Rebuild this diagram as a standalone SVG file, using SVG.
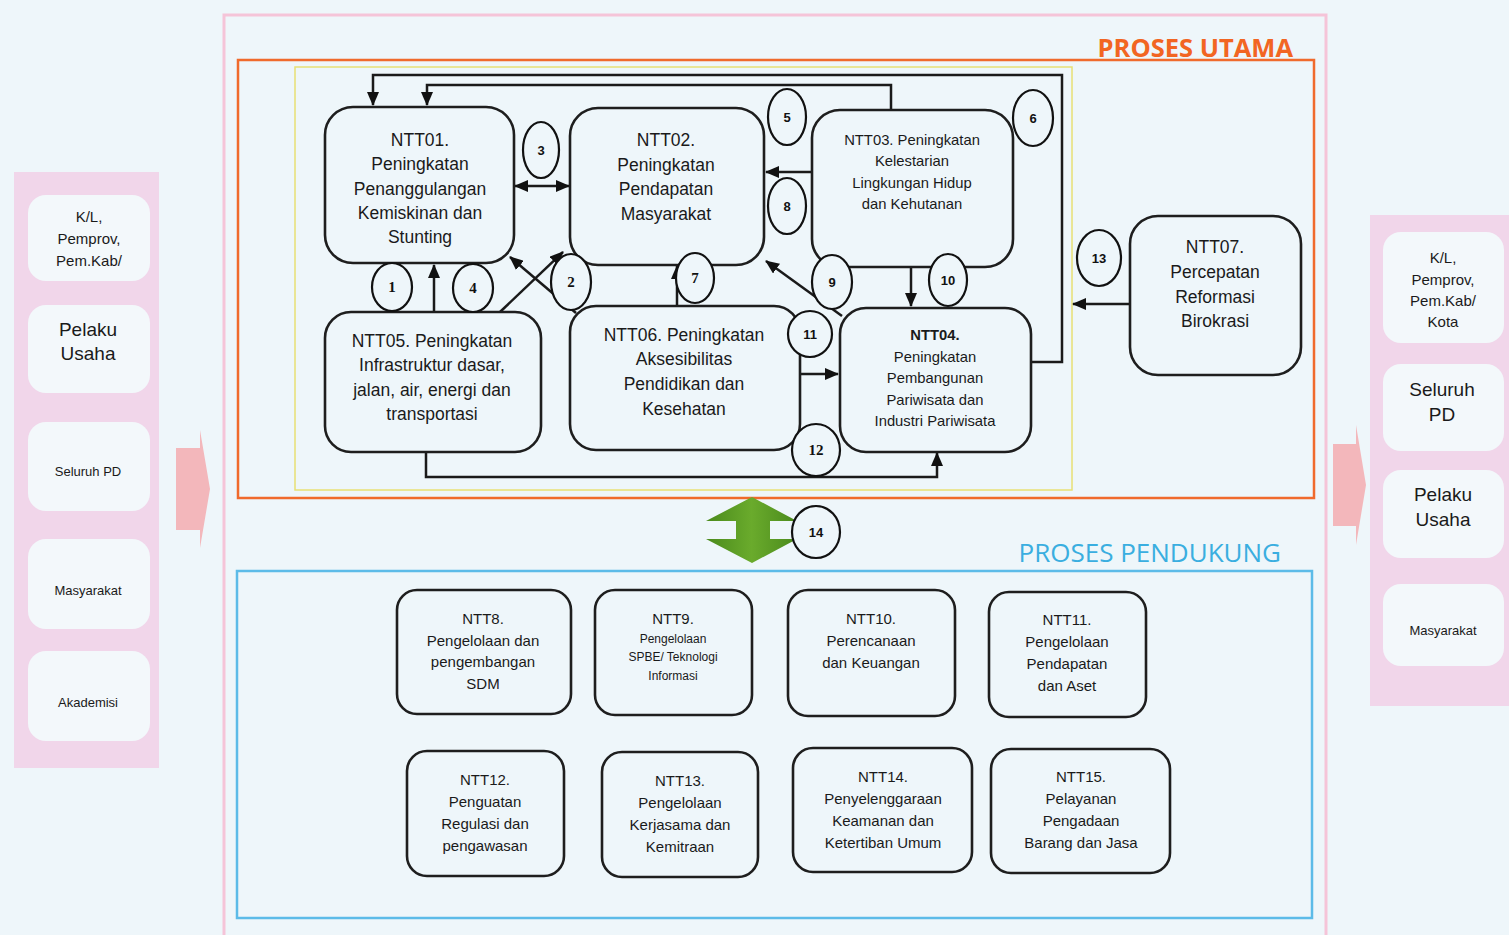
<svg xmlns="http://www.w3.org/2000/svg" width="1509" height="935" viewBox="0 0 1509 935">
<defs>
<style>
.bg{fill:#eef6fa}
.node{fill:#eef6fa;stroke:#1e1e1e;stroke-width:2.6}
.t{font-family:"Liberation Sans",Arial,sans-serif;fill:#1a1a1a;text-anchor:middle}
.t20{font-size:17.5px}
.t17{font-size:15px}
.t16{font-size:14.8px}
.t14{font-size:12px}
.circ{fill:#eef6fa;stroke:#111;stroke-width:2.2}
.num{font-family:"Liberation Sans",Arial,sans-serif;font-weight:bold;font-size:13px;fill:#111;text-anchor:middle}
.nums{font-family:"Liberation Serif","Times New Roman",serif;font-weight:bold;font-size:15px;fill:#111;text-anchor:middle}
.ln{fill:none;stroke:#1a1a1a;stroke-width:2.5}
.panel{fill:#f1d6ea}
.pbox{fill:#f3f8fb}
.pt{font-family:"Liberation Sans",Arial,sans-serif;fill:#1a1a1a;text-anchor:middle}
</style>
<marker id="ah" markerUnits="userSpaceOnUse" markerWidth="14" markerHeight="12" refX="13" refY="6" orient="auto-start-reverse" viewBox="0 0 14 12">
<path d="M0,0 L14,6 L0,12 z" fill="#111"/>
</marker>
<linearGradient id="gr" x1="0" y1="0" x2="1" y2="0">
<stop offset="0" stop-color="#4a8a1c"/>
<stop offset="0.5" stop-color="#6aab2c"/>
<stop offset="1" stop-color="#4a8a1c"/>
</linearGradient>
</defs>
<rect class="bg" x="0" y="0" width="1509" height="935"/>

<!-- frames -->
<g id="frames">
<rect x="224" y="15" width="1102" height="930" fill="none" stroke="#f5c4d8" stroke-width="3"/>
<rect x="238" y="60" width="1076" height="438" fill="none" stroke="#f06a2c" stroke-width="2.5"/>
<rect x="295" y="67" width="777" height="423" fill="none" stroke="#e8e074" stroke-width="1.5"/>
<rect x="237" y="571" width="1075" height="347" fill="none" stroke="#5cbbe8" stroke-width="2.5"/>
<text x="1293" y="57" font-family="'Open Sans','Liberation Sans',sans-serif" font-weight="bold" font-size="25.5" fill="#f26522" text-anchor="end">PROSES UTAMA</text>
<text x="1281" y="562" font-family="'Open Sans','Liberation Sans',sans-serif" font-size="26" fill="#3aaee0" text-anchor="end">PROSES PENDUKUNG</text>
</g>

<!-- left stakeholder panel -->
<g id="left-panel">
<rect class="panel" x="14" y="172" width="145" height="596"/>
<rect class="pbox" x="28" y="195" width="122" height="86" rx="18"/>
<text class="pt" font-size="15" x="89" y="222">K/L,</text>
<text class="pt" font-size="15" x="89" y="244">Pemprov,</text>
<text class="pt" font-size="15" x="89" y="266">Pem.Kab/</text>
<rect class="pbox" x="28" y="305" width="122" height="88" rx="18"/>
<text class="pt" font-size="19" x="88" y="336">Pelaku</text>
<text class="pt" font-size="19" x="88" y="360">Usaha</text>
<rect class="pbox" x="28" y="422" width="122" height="89" rx="18"/>
<text class="pt" font-size="13" x="88" y="476">Seluruh PD</text>
<rect class="pbox" x="28" y="539" width="122" height="90" rx="18"/>
<text class="pt" font-size="13" x="88" y="595">Masyarakat</text>
<rect class="pbox" x="28" y="651" width="122" height="90" rx="18"/>
<text class="pt" font-size="13" x="88" y="707">Akademisi</text>
</g>
<path id="arrow-in" d="M176,448 L200,448 L200,430 L210,489 L200,548 L200,530 L176,530 z" fill="#f3b7bb"/>

<!-- right stakeholder panel -->
<g id="right-panel">
<rect class="panel" x="1370" y="215" width="139" height="491"/>
<rect class="pbox" x="1383" y="232" width="121" height="111" rx="18"/>
<text class="pt" font-size="15" x="1443" y="263">K/L,</text>
<text class="pt" font-size="15" x="1443" y="285">Pemprov,</text>
<text class="pt" font-size="15" x="1443" y="306">Pem.Kab/</text>
<text class="pt" font-size="15" x="1443" y="327">Kota</text>
<rect class="pbox" x="1383" y="364" width="121" height="87" rx="18"/>
<text class="pt" font-size="19" x="1442" y="396">Seluruh</text>
<text class="pt" font-size="19" x="1442" y="421">PD</text>
<rect class="pbox" x="1383" y="470" width="121" height="88" rx="18"/>
<text class="pt" font-size="19" x="1443" y="501">Pelaku</text>
<text class="pt" font-size="19" x="1443" y="526">Usaha</text>
<rect class="pbox" x="1383" y="584" width="121" height="82" rx="18"/>
<text class="pt" font-size="13" x="1443" y="635">Masyarakat</text>
</g>
<path id="arrow-out" d="M1333,444 L1356,444 L1356,425 L1366,485 L1356,545 L1356,526 L1333,526 z" fill="#f3b7bb"/>

<!-- connectors -->
<g id="connectors">
<polyline class="ln" points="1032,362 1062,362 1062,75 373,75 373,105" marker-end="url(#ah)"/>
<polyline class="ln" points="891,110 891,85 427,85 427,105" marker-end="url(#ah)"/>
<line class="ln" x1="515" y1="186" x2="569" y2="186" marker-start="url(#ah)" marker-end="url(#ah)"/>
<line class="ln" x1="434" y1="312" x2="434" y2="265" marker-end="url(#ah)"/>
<line class="ln" x1="500" y1="312" x2="563" y2="252" marker-end="url(#ah)"/>
<line class="ln" x1="576" y1="313" x2="510" y2="257" marker-end="url(#ah)"/>
<line class="ln" x1="677" y1="306" x2="677" y2="266" marker-end="url(#ah)"/>
<line class="ln" x1="812" y1="172" x2="766" y2="172" marker-end="url(#ah)"/>
<line class="ln" x1="842" y1="316" x2="766" y2="261" marker-end="url(#ah)"/>
<line class="ln" x1="911" y1="267" x2="911" y2="306" marker-end="url(#ah)"/>
<line class="ln" x1="800" y1="374" x2="838" y2="374" marker-end="url(#ah)"/>
<polyline class="ln" points="426,452 426,477 937,477 937,453" marker-end="url(#ah)"/>
<line class="ln" x1="1130" y1="304" x2="1073" y2="304" marker-end="url(#ah)"/>
<path id="c14" d="M752,497 L797,521 L770,521 L770,539 L797,539 L752,563 L706,539 L736,539 L736,521 L706,521 z" fill="url(#gr)"/>
</g>

<!-- main process nodes -->
<g id="NTT01">
<rect class="node" x="325" y="107" width="189" height="156" rx="28"/>
<text class="t t20" x="420" y="146">NTT01.</text>
<text class="t t20" x="420" y="170">Peningkatan</text>
<text class="t t20" x="420" y="195">Penanggulangan</text>
<text class="t t20" x="420" y="219">Kemiskinan dan</text>
<text class="t t20" x="420" y="243">Stunting</text>
</g>
<g id="NTT02">
<rect class="node" x="570" y="108" width="194" height="157" rx="28"/>
<text class="t t20" x="666" y="146">NTT02.</text>
<text class="t t20" x="666" y="171">Peningkatan</text>
<text class="t t20" x="666" y="195">Pendapatan</text>
<text class="t t20" x="666" y="220">Masyarakat</text>
</g>
<g id="NTT03">
<rect class="node" x="812" y="110" width="201" height="157" rx="28"/>
<text class="t t16" x="912" y="145">NTT03. Peningkatan</text>
<text class="t t16" x="912" y="166">Kelestarian</text>
<text class="t t16" x="912" y="188">Lingkungan Hidup</text>
<text class="t t16" x="912" y="209">dan Kehutanan</text>
</g>
<g id="NTT07">
<rect class="node" x="1130" y="216" width="171" height="159" rx="28"/>
<text class="t t20" x="1215" y="253">NTT07.</text>
<text class="t t20" x="1215" y="278">Percepatan</text>
<text class="t t20" x="1215" y="303">Reformasi</text>
<text class="t t20" x="1215" y="327">Birokrasi</text>
</g>
<g id="NTT05">
<rect class="node" x="325" y="312" width="216" height="140" rx="26"/>
<text class="t t20" x="432" y="347">NTT05. Peningkatan</text>
<text class="t t20" x="432" y="371">Infrastruktur dasar,</text>
<text class="t t20" x="432" y="396">jalan, air, energi dan</text>
<text class="t t20" x="432" y="420">transportasi</text>
</g>
<g id="NTT06">
<rect class="node" x="570" y="306" width="230" height="144" rx="26"/>
<text class="t t20" x="684" y="341">NTT06. Peningkatan</text>
<text class="t t20" x="684" y="365">Aksesibilitas</text>
<text class="t t20" x="684" y="390">Pendidikan dan</text>
<text class="t t20" x="684" y="415">Kesehatan</text>
</g>
<g id="NTT04">
<rect class="node" x="840" y="308" width="191" height="144" rx="26"/>
<text class="t t16" x="935" y="340" font-weight="bold">NTT04.</text>
<text class="t t16" x="935" y="362">Peningkatan</text>
<text class="t t16" x="935" y="383">Pembangunan</text>
<text class="t t16" x="935" y="405">Pariwisata dan</text>
<text class="t t16" x="935" y="426">Industri Pariwisata</text>
</g>

<!-- relation number badges -->
<g id="badges">
<ellipse class="circ" cx="392" cy="287" rx="20" ry="24"/><text class="nums" x="392" y="292">1</text>
<ellipse class="circ" cx="473" cy="288" rx="20" ry="24"/><text class="nums" x="473" y="293">4</text>
<ellipse class="circ" cx="571" cy="282" rx="20" ry="28"/><text class="nums" x="571" y="287">2</text>
<ellipse class="circ" cx="541" cy="150" rx="18" ry="28"/><text class="num" x="541" y="155">3</text>
<ellipse class="circ" cx="695" cy="278" rx="19" ry="25"/><text class="nums" x="695" y="283">7</text>
<ellipse class="circ" cx="787" cy="117" rx="19" ry="28"/><text class="num" x="787" y="122">5</text>
<ellipse class="circ" cx="787" cy="206" rx="19" ry="28"/><text class="num" x="787" y="211">8</text>
<ellipse class="circ" cx="1033" cy="118" rx="20" ry="28"/><text class="num" x="1033" y="123">6</text>
<ellipse class="circ" cx="832" cy="282" rx="20" ry="27"/><text class="num" x="832" y="287">9</text>
<ellipse class="circ" cx="948" cy="280" rx="19" ry="26"/><text class="num" x="948" y="285">10</text>
<ellipse class="circ" cx="810" cy="334" rx="22" ry="23"/><text class="num" x="810" y="339">11</text>
<ellipse class="circ" cx="816" cy="450" rx="24" ry="26"/><text class="nums" x="816" y="455">12</text>
<ellipse class="circ" cx="1099" cy="258" rx="22" ry="28"/><text class="num" x="1099" y="263">13</text>
<ellipse class="circ" cx="816" cy="532" rx="24" ry="26"/><text class="num" x="816" y="537">14</text>
</g>

<!-- support process nodes -->
<g id="NTT8">
<rect class="node" x="397" y="590" width="174" height="124" rx="20"/>
<text class="t t17" x="483" y="624">NTT8.</text>
<text class="t t17" x="483" y="646">Pengelolaan dan</text>
<text class="t t17" x="483" y="667">pengembangan</text>
<text class="t t17" x="483" y="689">SDM</text>
</g>
<g id="NTT9">
<rect class="node" x="595" y="590" width="157" height="125" rx="20"/>
<text class="t t17" x="673" y="624">NTT9.</text>
<text class="t t14" x="673" y="643">Pengelolaan</text>
<text class="t t14" x="673" y="661">SPBE/ Teknologi</text>
<text class="t t14" x="673" y="680">Informasi</text>
</g>
<g id="NTT10">
<rect class="node" x="788" y="590" width="167" height="126" rx="20"/>
<text class="t t17" x="871" y="624">NTT10.</text>
<text class="t t17" x="871" y="646">Perencanaan</text>
<text class="t t17" x="871" y="668">dan Keuangan</text>
</g>
<g id="NTT11">
<rect class="node" x="989" y="592" width="157" height="125" rx="20"/>
<text class="t t17" x="1067" y="625">NTT11.</text>
<text class="t t17" x="1067" y="647">Pengelolaan</text>
<text class="t t17" x="1067" y="669">Pendapatan</text>
<text class="t t17" x="1067" y="691">dan Aset</text>
</g>
<g id="NTT12">
<rect class="node" x="407" y="751" width="157" height="125" rx="20"/>
<text class="t t17" x="485" y="785">NTT12.</text>
<text class="t t17" x="485" y="807">Penguatan</text>
<text class="t t17" x="485" y="829">Regulasi dan</text>
<text class="t t17" x="485" y="851">pengawasan</text>
</g>
<g id="NTT13">
<rect class="node" x="602" y="752" width="156" height="125" rx="20"/>
<text class="t t17" x="680" y="786">NTT13.</text>
<text class="t t17" x="680" y="808">Pengelolaan</text>
<text class="t t17" x="680" y="830">Kerjasama dan</text>
<text class="t t17" x="680" y="852">Kemitraan</text>
</g>
<g id="NTT14">
<rect class="node" x="793" y="748" width="179" height="124" rx="20"/>
<text class="t t17" x="883" y="782">NTT14.</text>
<text class="t t17" x="883" y="804">Penyelenggaraan</text>
<text class="t t17" x="883" y="826">Keamanan dan</text>
<text class="t t17" x="883" y="848">Ketertiban Umum</text>
</g>
<g id="NTT15">
<rect class="node" x="991" y="749" width="179" height="124" rx="20"/>
<text class="t t17" x="1081" y="782">NTT15.</text>
<text class="t t17" x="1081" y="804">Pelayanan</text>
<text class="t t17" x="1081" y="826">Pengadaan</text>
<text class="t t17" x="1081" y="848">Barang dan Jasa</text>
</g>
</svg>
